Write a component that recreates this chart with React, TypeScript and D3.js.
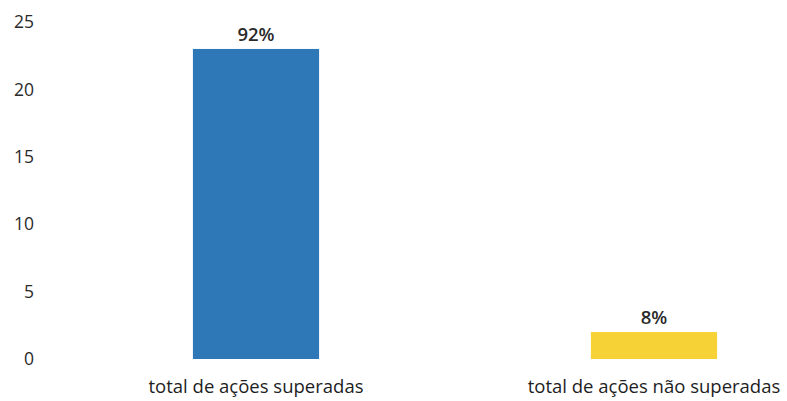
import React from "react";
import * as d3 from "d3";

const categories = ["total de ações superadas", "total de ações não superadas"];
const values = [23, 2];
const valueLabels = ["92%", "8%"];
const colors = ["#2E78B7", "#F7D237"];
const yTicks = [0, 5, 10, 15, 20, 25];

const W = 787;
const H = 401;

export default function App() {
  const y = d3.scaleLinear().domain([0, 25]).range([359, 22]);
  const x = d3.scaleBand<string>().domain(categories).range([57, 853]).paddingInner(0.683).paddingOuter(0.3415);
  const font = "'Open Sans', sans-serif";
  return (
    <svg width={W} height={H} style={{ position: "absolute", left: 0, top: 0, background: "#fff" }} fontFamily={font}>
      {yTicks.map((t) => (
        <text key={t} x={34} y={y(t)} dy="0.35em" textAnchor="end" fontSize={17.5} fill="#2a2a2a">
          {t}
        </text>
      ))}
      {categories.map((c, i) => (
        <g key={c}>
          <rect x={x(c)} y={y(values[i])} width={x.bandwidth()} height={y(0) - y(values[i])} fill={colors[i]} />
          <text x={(x(c) ?? 0) + x.bandwidth() / 2} y={y(values[i]) - 8} textAnchor="middle" fontSize={18.5} fontWeight={600} fill="#2a2a2a">
            {valueLabels[i]}
          </text>
          <text x={(x(c) ?? 0) + x.bandwidth() / 2} y={393} textAnchor="middle" fontSize={18.5} fontWeight={500} fill="#1e1e1e">
            {c}
          </text>
        </g>
      ))}
    </svg>
  );
}
